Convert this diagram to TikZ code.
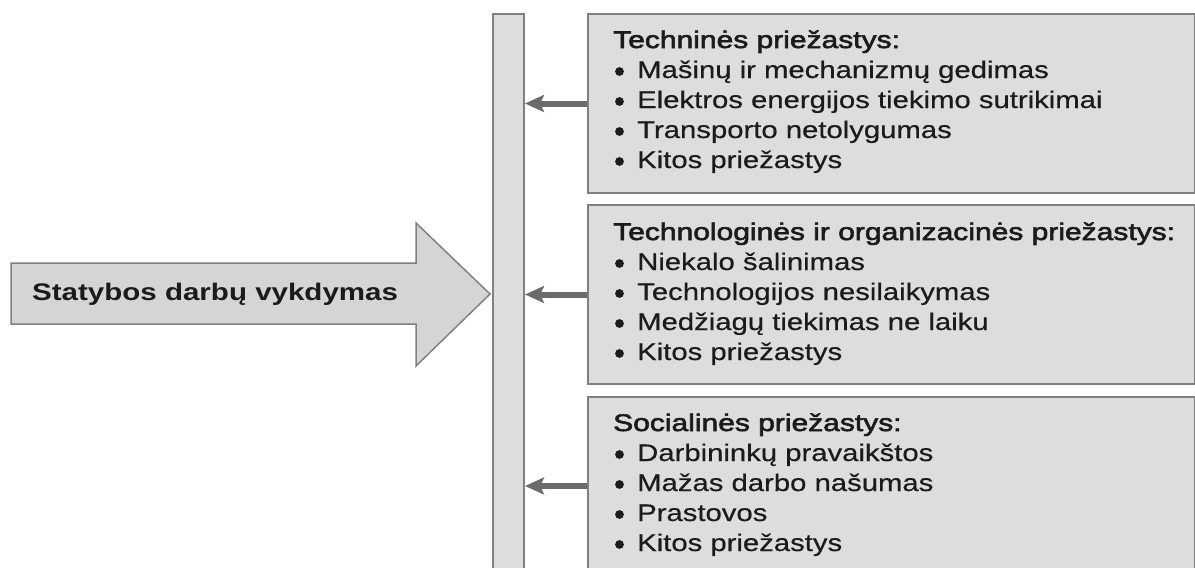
\documentclass[tikz,border=0pt]{standalone}
\usepackage{fontspec}
\setmainfont{Liberation Sans}
\newfontfamily\bodyfont[FakeStretch=1.22,FakeBold=0.5]{Liberation Sans}
\newfontfamily\headfont[FakeStretch=1.25,FakeBold=2.5]{Liberation Sans}
\newfontfamily\arrowfont[FakeStretch=1.23,UprightFont={* Bold}]{Liberation Sans}
\usetikzlibrary{arrows.meta}
\definecolor{boxfill}{HTML}{DCDDDF}
\definecolor{boxline}{HTML}{808080}
\definecolor{arrfill}{HTML}{D4D5D7}
\definecolor{linkgray}{HTML}{6B6B6B}
\definecolor{txt}{HTML}{1C1A1B}
\tikzset{
  panel/.style={draw=boxline, fill=boxfill, line width=2pt, anchor=north west, inner sep=0pt, minimum width=607pt},
  ln/.style={anchor=base west, inner sep=0pt, text=txt, font=\bodyfont\fontsize{24}{30}\selectfont},
  hd/.style={ln, font=\headfont\fontsize{24}{30}\selectfont},
  link/.style={draw=linkgray, line width=6pt, -{Stealth[length=19pt,width=17pt,inset=4pt]}},
  dot/.style={fill=txt},
}
\newcommand{\bul}{\hspace*{23pt}}
\begin{document}
\begin{tikzpicture}[x=1pt,y=-1pt]
\useasboundingbox (0,0) rectangle (1195,568);
\clip (0,0) rectangle (1195,568);
% big arrow
\draw[draw=boxline, fill=arrfill, line width=1.5pt, line join=miter]
  (11,263) -- (416,263) -- (416,223) -- (490,294) -- (416,366) -- (416,324) -- (11,324) -- cycle;
\node[anchor=base west, inner sep=0pt, text=txt, font=\arrowfont\fontsize{24}{30}\selectfont] (main) at (32,300) {Statybos darbų vykdymas};
% vertical bar
\node[draw=boxline, fill=boxfill, line width=2pt, anchor=north west, inner sep=0pt, minimum width=31pt, minimum height=580pt] (bar) at (492,13) {};
% boxes
\node[panel, minimum height=179pt] (b1) at (587,13) {};
\node[panel, minimum height=179pt] (b2) at (587,204) {};
\node[panel, minimum height=178pt] (b3) at (587,396) {};
% links
\draw[link] (b1.west) -- (bar.east |- b1.west);
\draw[link] (b2.west) -- (bar.east |- b2.west);
\draw[link] (b3.west) -- (bar.east |- b3.west);
% box 1 text
\node[hd] (h1) at (613,48) {Techninės priežastys:};
\node[ln] (l11) at (614,78) {\bul Mašinų ir mechanizmų gedimas};
\node[ln] (l12) at (614,108) {\bul Elektros energijos tiekimo sutrikimai};
\node[ln] (l13) at (614,138) {\bul Transporto netolygumas};
\node[ln] (l14) at (614,168) {\bul Kitos priežastys};
% box 2 text
\node[hd] (h2) at (613,240) {Technologinės ir organizacinės priežastys:};
\node[ln] (l21) at (614,270) {\bul Niekalo šalinimas};
\node[ln] (l22) at (614,300) {\bul Technologijos nesilaikymas};
\node[ln] (l23) at (614,330) {\bul Medžiagų tiekimas ne laiku};
\node[ln] (l24) at (614,360) {\bul Kitos priežastys};
% box 3 text
\node[hd] (h3) at (613,431) {Socialinės priežastys:};
\node[ln] (l31) at (614,461) {\bul Darbininkų pravaikštos};
\node[ln] (l32) at (614,491) {\bul Mažas darbo našumas};
\node[ln] (l33) at (614,521) {\bul Prastovos};
\node[ln] (l34) at (614,551) {\bul Kitos priežastys};
% bullets
\foreach \n in {l11,l12,l13,l14,l21,l22,l23,l24,l31,l32,l33,l34}
  \fill[dot] ([shift={(5.5,-6.5)}]\n.base west) circle (4.4pt);
\end{tikzpicture}
\end{document}
